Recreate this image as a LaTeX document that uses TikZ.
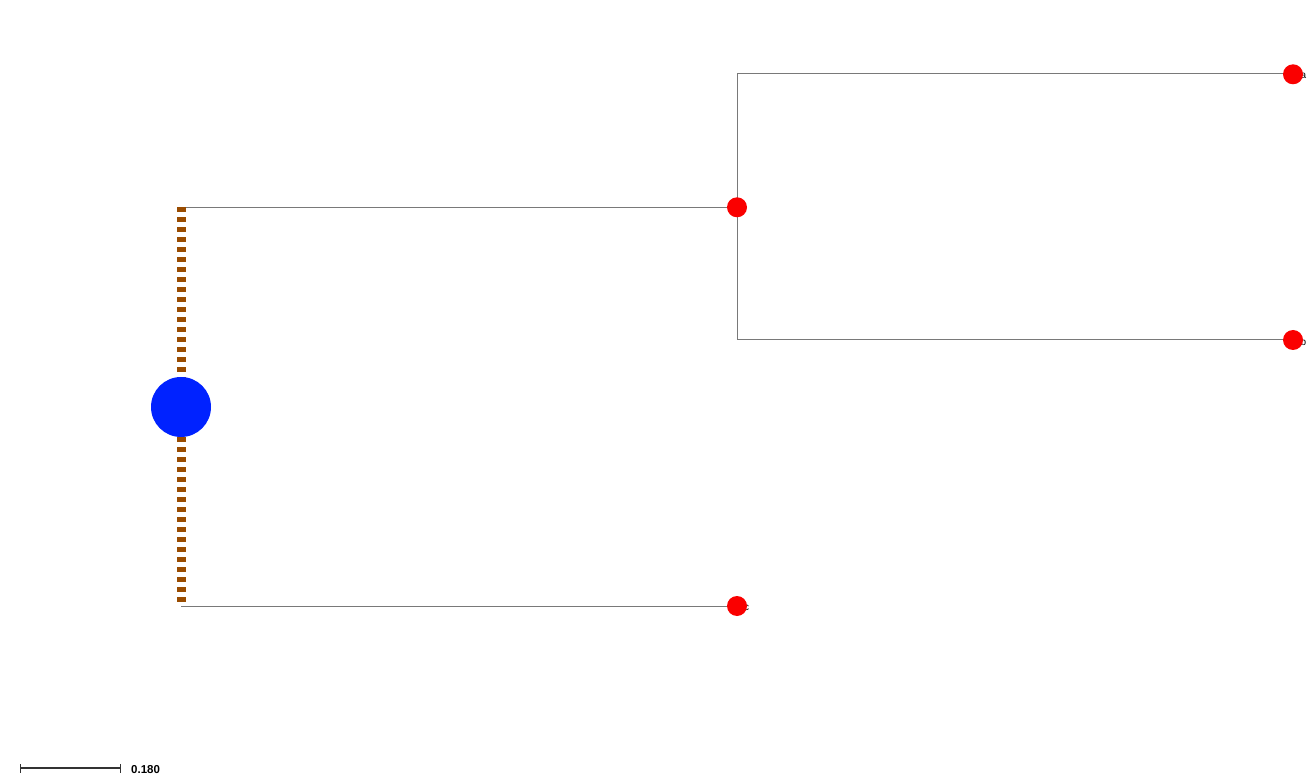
\documentclass[tikz,border=0pt]{standalone}
\usepackage{fontspec}
\setmainfont{Liberation Sans}
\begin{document}
\begin{tikzpicture}[x=1pt,y=-1pt,
  branch/.style={draw=gray!95!black, line width=1pt},
  rootstem/.style={draw={rgb,255:red,153;green,76;blue,0}, line width=9pt, dash pattern=on 4.5pt off 5.5pt},
  leafdot/.style={circle, fill={rgb,255:red,250;green,0;blue,0}, minimum size=20pt, inner sep=0pt},
  rootdot/.style={circle, fill={rgb,255:red,0;green,34;blue,255}, minimum size=60pt, inner sep=0pt},
  leaflabel/.style={anchor=west, font=\fontsize{10}{12}\selectfont, inner sep=0pt},
  scalebar/.style={draw=black!80, line width=1.6pt}]
\useasboundingbox (0,0) rectangle (1312,783);
% coordinates
\coordinate (rtop) at (181,207.3);
\coordinate (rbot) at (181,606);
\coordinate (ntop) at (737,74);
\coordinate (nbot) at (737,340);
% labels (behind dots)
\node[leaflabel] (la) at (1300.5,75.5) {a};
\node[leaflabel] (lb) at (1300.5,342) {b};
\node[leaflabel] (lc) at (744,608) {c};
% branches
\draw[branch] (183,207.3) -- (737,207.3);
\draw[branch] (181,606) -- (737,606);
\draw[branch] (ntop) -- (nbot);
\draw[branch] (ntop) -- (1293,74);
\draw[branch] (nbot) -- (1293,340);
\draw[rootstem] (rtop) -- (rbot);
% dots
\node[leafdot] (n1) at (737,207.3) {};
\node[leafdot] (a) at (1293,74.3) {};
\node[leafdot] (b) at (1293,340) {};
\node[leafdot] (c) at (737,606) {};
\node[rootdot] (root) at (181,407) {};
% scale bar
\coordinate (s1) at (20.5,768);
\coordinate (s2) at (120.5,768);
\draw[scalebar] (s1) -- (s2);
\draw[scalebar] ([yshift=-4.5pt]s1) -- ([yshift=4.5pt]s1);
\draw[scalebar] ([yshift=-4.5pt]s2) -- ([yshift=4.5pt]s2);
\node[anchor=west, inner sep=0pt, font=\bfseries\fontsize{11.5}{13}\selectfont] (sl) at (131,769.5) {0.180};
\end{tikzpicture}
\end{document}
